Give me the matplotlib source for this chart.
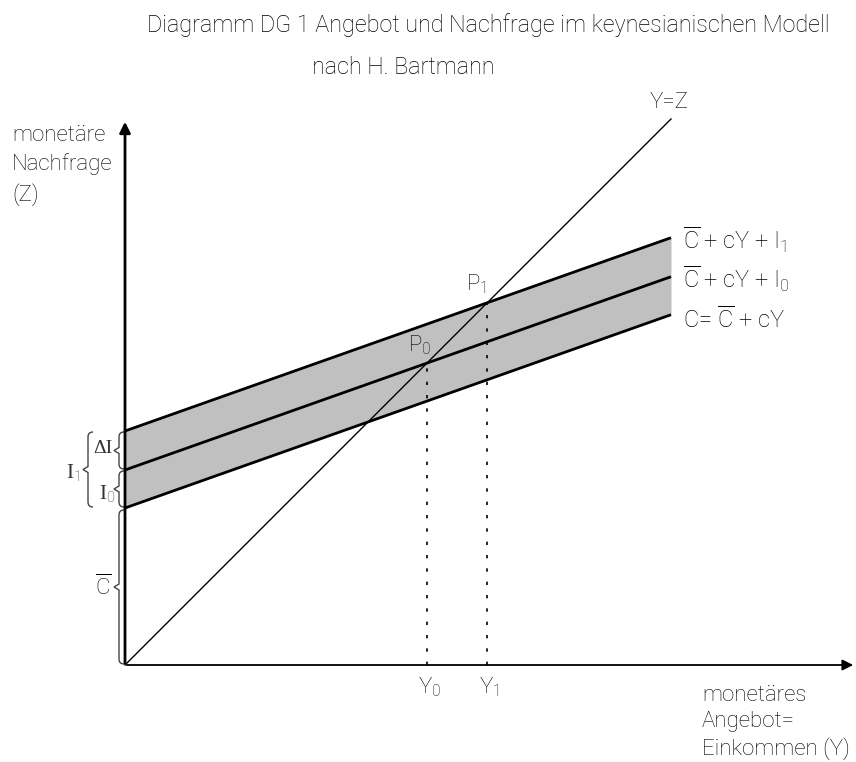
import numpy as np
import matplotlib.pyplot as plt
from matplotlib.path import Path
from matplotlib.patches import PathPatch

plt.rcParams['font.family'] = ['Roboto', 'DejaVu Sans']
plt.rcParams['font.weight'] = 'light'
plt.rcParams['mathtext.fontset'] = 'custom'
plt.rcParams['mathtext.rm'] = 'Roboto:light'
plt.rcParams['mathtext.it'] = 'Roboto:light'

# model values (units = chart units, origin at axis cross)
C_bar = 157
c = 0.354
I0 = 38
I1 = 77
Y_range = [0, 546]

title1 = 'Diagramm DG 1 Angebot und Nachfrage im keynesianischen Modell'
title2 = 'nach H. Bartmann'
ylab = 'monetäre\nNachfrage\n(Z)'
xlab = 'monetäres\nAngebot=\nEinkommen (Y)'

fig = plt.figure(figsize=(8.56, 7.62), dpi=100)
ax = fig.add_axes([0, 0, 1, 1])
ax.set_xlim(-125, 731)
ax.set_ylim(-97, 665)
ax.axis('off')

x = np.array(Y_range, dtype=float)
c_line = C_bar + c * x
i0_line = C_bar + I0 + c * x
i1_line = C_bar + I1 + c * x

ax.fill_between(x, c_line, i1_line, color='#c0c0c0', lw=0)
for yy in (c_line, i0_line, i1_line):
    ax.plot(x, yy, color='black', lw=2, solid_capstyle='butt')
ax.plot(x, x, color='black', lw=1)

# equilibria
Y0 = (C_bar + I0) / (1 - c)
Y1 = (C_bar + I1) / (1 - c)
ax.vlines([Y0, Y1], 0, [Y0, Y1], colors='black', lw=1.2, linestyles=(0, (2, 6)))

# axes
ax.annotate('', xy=(0, 546), xytext=(0, -1),
            arrowprops=dict(arrowstyle='-|>', lw=2, color='black', mutation_scale=16))
ax.annotate('', xy=(731, 0), xytext=(-1, 0),
            arrowprops=dict(arrowstyle='-|>', lw=1.3, color='black', mutation_scale=16))

fs = 16
fig.text(0.571, 0.967, title1, ha='center', va='center', fontsize=16.8)
fig.text(0.364, 0.912, title2, ha='left', va='center', fontsize=16.8)
fig.text(0.014, 0.783, ylab, ha='left', va='center', fontsize=fs, linespacing=1.45)
fig.text(0.82, 0.052, xlab, ha='left', va='center', fontsize=fs, linespacing=1.3)

ax.text(Y_range[1] - 2, 563, 'Y=Z', ha='center', va='center', fontsize=fs)
lx = Y_range[1] + 12
lfs = 17
ax.text(lx, i1_line[-1] - 2, r'$\overline{\mathrm{C}}$ + cY + I$_1$', ha='left', va='center', fontsize=lfs)
ax.text(lx, i0_line[-1] - 2, r'$\overline{\mathrm{C}}$ + cY + I$_0$', ha='left', va='center', fontsize=lfs)
ax.text(lx, c_line[-1] - 5, r'C= $\overline{\mathrm{C}}$ + cY', ha='left', va='center', fontsize=lfs)

ax.text(Y0 - 7, Y0 + 18, r'P$_0$', ha='center', va='center', fontsize=fs)
ax.text(Y1 - 11, Y1 + 19, r'P$_1$', ha='center', va='center', fontsize=fs)
ax.text(Y0 + 3, -22, r'Y$_0$', ha='center', va='center', fontsize=fs)
ax.text(Y1 + 2, -22, r'Y$_1$', ha='center', va='center', fontsize=fs)


def brace(xpos, y_lo, y_hi, w=5):
    mid = (y_lo + y_hi) / 2
    verts = [(xpos + w, y_hi), (xpos, y_hi), (xpos, y_hi - w),
             (xpos, mid + 3), (xpos - w, mid), (xpos, mid - 3),
             (xpos, y_lo + w), (xpos, y_lo), (xpos + w, y_lo)]
    codes = [Path.MOVETO, Path.CURVE3, Path.CURVE3, Path.LINETO, Path.LINETO,
             Path.LINETO, Path.LINETO, Path.CURVE3, Path.CURVE3]
    ax.add_patch(PathPatch(Path(verts, codes), fill=False, ec='#444444', lw=1))
    return mid


serif = dict(family='Liberation Serif', weight='normal', color='#333333')
m = brace(-6, 1, C_bar - 2)
ax.text(-22, m, r'$\overline{\mathrm{C}}$', ha='center', va='center', fontsize=fs)
m = brace(-6, C_bar + 1, C_bar + I0 - 1)
ax.text(-18, m - 5, r'I$_0$', ha='center', va='center', fontsize=15, **serif)
m = brace(-6, C_bar + I0 + 1, C_bar + I1 - 1)
ax.text(-22, m + 2, 'ΔI', ha='center', va='center', fontsize=14, **serif)
m = brace(-37, C_bar + 1, C_bar + I1 - 1)
ax.text(-52, m - 4, r'I$_1$', ha='center', va='center', fontsize=15, **serif)

fig.savefig('out.png', dpi=100)
